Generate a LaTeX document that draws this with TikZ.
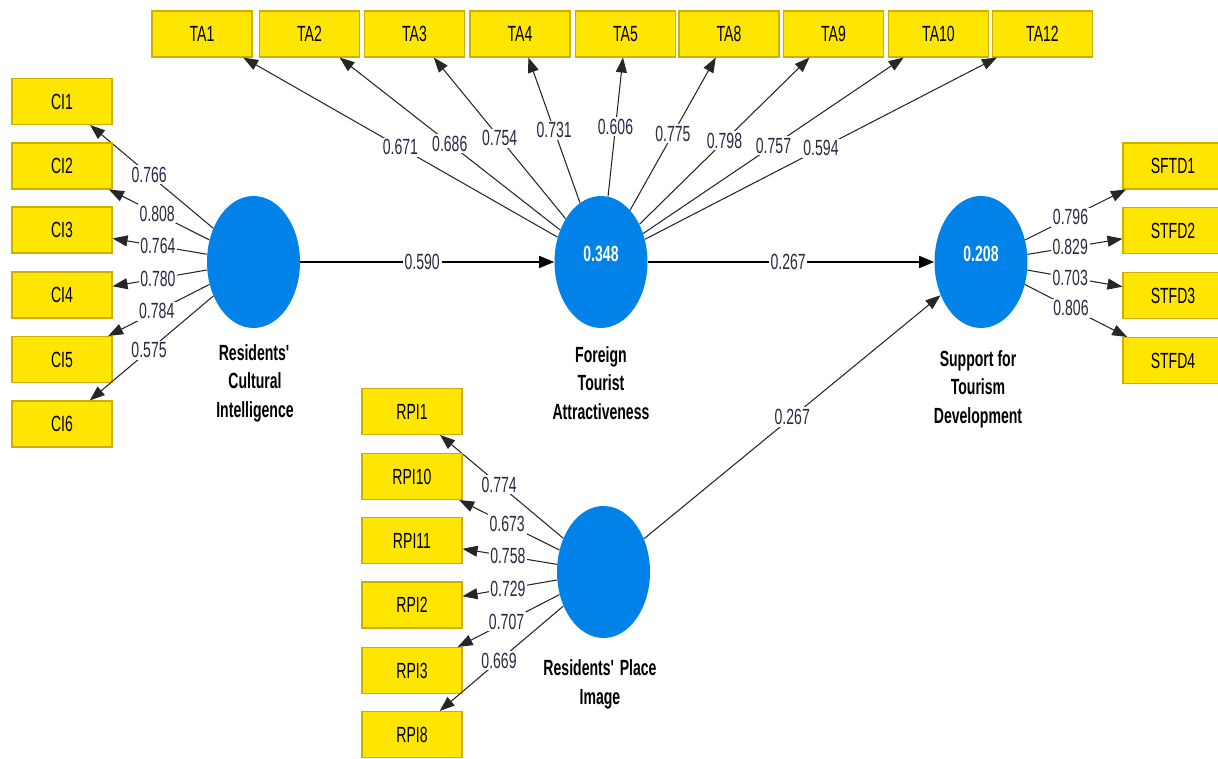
\documentclass[tikz,border=0pt]{standalone}
\usepackage{fontspec}
\setmainfont{Liberation Sans}[FakeStretch=0.64]
\usetikzlibrary{shapes.geometric,arrows.meta}
\definecolor{boxy}{RGB}{255,230,0}
\definecolor{boxb}{RGB}{205,175,0}
\definecolor{lv}{RGB}{0,130,232}
\definecolor{num}{RGB}{40,40,70}
\begin{document}
\begin{tikzpicture}[x=0.02cm,y=-0.02cm,
  font=\fontsize{12.5}{16}\selectfont,
  ind/.style={rectangle, draw=boxb, fill=boxy, minimum width=2cm, minimum height=0.92cm, inner sep=0pt, line width=0.6pt, text=black},
  lat/.style={ellipse, fill=lv, minimum width=1.86cm, minimum height=2.64cm, inner sep=0pt},
  ld/.style={draw=black!85, line width=0.6pt, -{Triangle[length=3mm,width=2.2mm]}},
  strc/.style={draw=black, line width=0.9pt, -{Triangle[length=3mm,width=2.4mm]}},
  w/.style={fill=white, inner sep=1pt, text=num},
  lvcap/.style={align=center, font=\fontsize{12.5}{16.2}\selectfont\bfseries, text=black},
  r2/.style={text=white, yshift=0.16cm, font=\fontsize{12.5}{16}\selectfont\bfseries}]
\useasboundingbox (0,0) rectangle (1218,759);
% latent variables
\node[lat] (rci) at (253.5,262) {};
\node[lat, label={[r2]center:0.348}] (fta) at (601,262) {};
\node[lat, label={[r2]center:0.208}] (std) at (981,262) {};
\node[lat] (rpi) at (603.5,572) {};
% captions
\node[lvcap] (caprci) at (255,383) {Residents\textquotesingle\\Cultural\\Intelligence};
\node[lvcap] (capfta) at (601,383) {Foreign\\Tourist\\Attractiveness};
\node[lvcap] (capstd) at (978,389) {Support for\\Tourism\\Development};
\node[lvcap] (caprpi) at (600,684.5) {Residents\textquotesingle{} Place\\Image};
% CI indicators
\foreach \n/\y/\v in {1/101.5/0.766, 2/166/0.808, 3/230/0.764, 4/295/0.780, 5/359.5/0.784, 6/424/0.575} {
  \node[ind] (ci\n) at (62,\y) {CI\n};
  \draw[ld] (rci) -- node[w,pos=0.52]{\v} (ci\n);
}
% TA indicators
\foreach \n/\x/\v in {1/202/0.671, 2/309.5/0.686, 3/414.5/0.754, 4/520/0.731, 5/625.5/0.606, 8/729/0.775, 9/833.5/0.798, 10/938.5/0.757, 12/1042.5/0.594} {
  \node[ind] (ta\n) at (\x,34) {TA\n};
  \draw[ld] (fta) -- node[w,pos=0.5]{\v} (ta\n);
}
% RPI indicators
\foreach \n/\y/\v in {1/411.5/0.774, 10/476.5/0.673, 11/540.5/0.758, 2/605/0.729, 3/670.5/0.707, 8/734.5/0.669} {
  \node[ind] (rpi\n) at (412,\y) {RPI\n};
  \draw[ld] (rpi) -- node[w,pos=0.52]{\v} (rpi\n);
}
% STD indicators
\foreach \n/\t/\y/\v in {1/SFTD1/166/0.796, 2/STFD2/230.5/0.829, 3/STFD3/295.5/0.703, 4/STFD4/360.5/0.806} {
  \node[ind] (sd\n) at (1173,\y) {\t};
  \draw[ld] (std) -- node[w,pos=0.45]{\v} (sd\n);
}
% structural paths
\draw[strc] (rci) -- node[w,pos=0.48]{0.590} (fta);
\draw[strc] (fta) -- node[w,pos=0.49]{0.267} (std);
\draw[ld] (rpi) -- node[w,pos=0.5]{0.267} (std);
\end{tikzpicture}
\end{document}
